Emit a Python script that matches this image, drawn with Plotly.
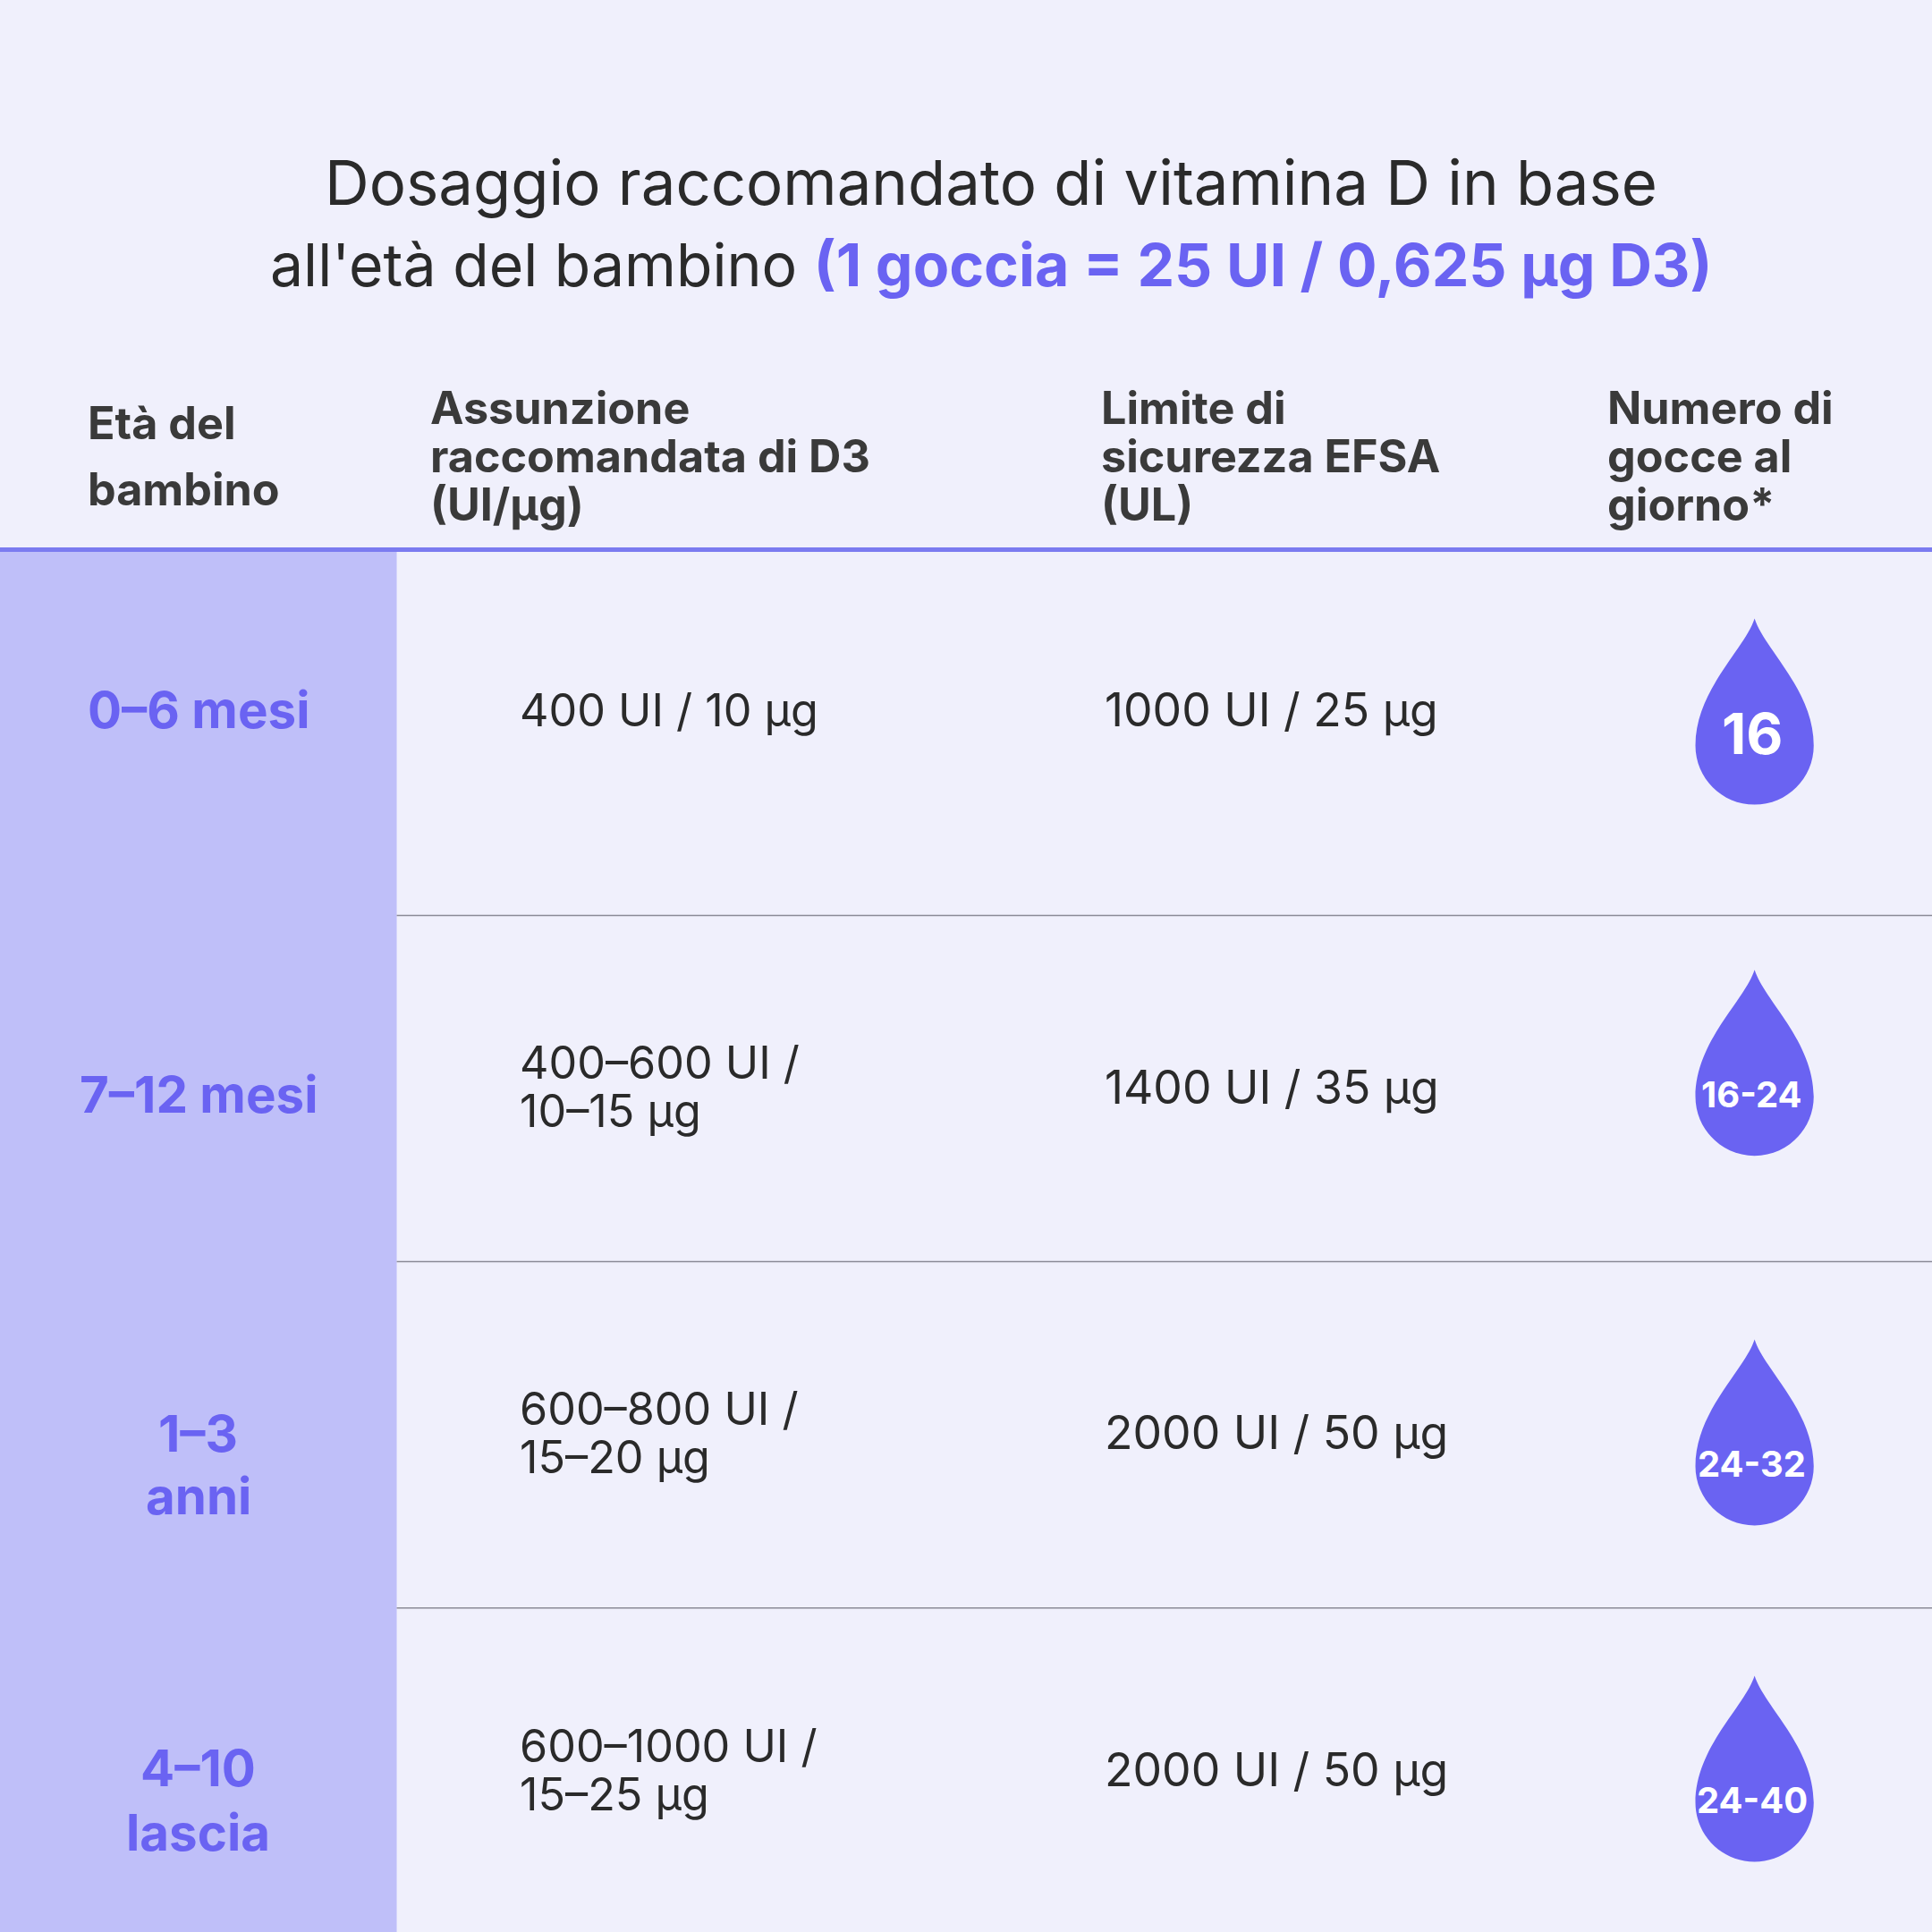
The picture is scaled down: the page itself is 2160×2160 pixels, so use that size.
import plotly.graph_objects as go

S = 2160 / 1568  # reference was read at 1568px

ages = [["0–6 mesi"], ["7–12 mesi"], ["1–3", "anni"], ["4–10", "lascia"]]
intake = [["400 UI / 10 µg"], ["400–600 UI /", "10–15 µg"], ["600–800 UI /", "15–20 µg"], ["600–1000 UI /", "15–25 µg"]]
limits = ["1000 UI / 25 µg", "1400 UI / 35 µg", "2000 UI / 50 µg", "2000 UI / 50 µg"]
drops = ["16", "16-24", "24-32", "24-40"]
headers = [["Età del", "bambino"], ["Assunzione", "raccomandata di D3", "(UI/µg)"],
           ["Limite di", "sicurezza EFSA", "(UL)"], ["Numero di", "gocce al", "giorno*"]]

age_y = [[576], [888], [1163, 1214], [1435, 1487]]
intake_y = [[576], [862, 901], [1143, 1182], [1417, 1456]]
limit_y = [576, 882, 1162, 1436]
drop_cy = [605, 890, 1190, 1463]
header_x = [70, 348, 892, 1303]
header_y = [[343, 397], [331, 370, 409], [331, 370, 409], [331, 370, 409]]

BG = "#F0F0FC"
PURPLE = "#6A63F2"
LEFT = "#BFBFF9"
DARK = "#2a2a2a"
FONT = "Inter"

fig = go.Figure()
shapes = []
ann = []

shapes.append(dict(type="rect", x0=0, x1=322, y0=447, y1=1568, fillcolor=LEFT, line_width=0, layer="below"))
shapes.append(dict(type="line", x0=0, x1=1568, y0=446, y1=446, line=dict(color="#7B7BF0", width=5)))
for y in [743, 1024, 1305]:
    shapes.append(dict(type="line", x0=322, x1=1568, y0=y, y1=y, line=dict(color="#8a8a96", width=1.5)))

ann.append(dict(x=804, y=148, text="Dosaggio raccomandato di vitamina D in base", showarrow=False,
                font=dict(size=50 * S, color=DARK, family=FONT)))
ann.append(dict(x=804, y=215, text="all'età del bambino <b><span style='color:%s'>(1 goccia = 25 UI / 0,625 µg D3)</span></b>" % PURPLE,
                showarrow=False, font=dict(size=48 * S, color=DARK, family=FONT)))

for hx, hys, hl in zip(header_x, header_y, headers):
    for hy, h in zip(hys, hl):
        ann.append(dict(x=hx, y=hy, text="<b>%s</b>" % h, showarrow=False, xanchor="left",
                        font=dict(size=36.5 * S, color="#3a3a3a", family=FONT)))

r = 48
k = 0.5523
for i in range(4):
    for y, t in zip(age_y[i], ages[i]):
        ann.append(dict(x=161, y=y, text="<b>%s</b>" % t, showarrow=False,
                        font=dict(size=41 * S, color=PURPLE, family=FONT)))
    for y, t in zip(intake_y[i], intake[i]):
        ann.append(dict(x=420, y=y, text=t, showarrow=False, xanchor="left",
                        font=dict(size=36.5 * S, color=DARK, family=FONT)))
    ann.append(dict(x=895, y=limit_y[i], text=limits[i], showarrow=False,
                    xanchor="left", font=dict(size=37.5 * S, color=DARK, family=FONT)))
    cx, cy = 1424, drop_cy[i]
    t = cy - 103
    path = (f"M {cx},{t} C {cx+8},{t+25} {cx+r},{cy-45} {cx+r},{cy} "
            f"C {cx+r},{cy+k*r} {cx+k*r},{cy+r} {cx},{cy+r} "
            f"C {cx-k*r},{cy+r} {cx-r},{cy+k*r} {cx-r},{cy} "
            f"C {cx-r},{cy-45} {cx-8},{t+25} {cx},{t} Z")
    shapes.append(dict(type="path", path=path, fillcolor=PURPLE, line_width=0))
    size = 46 if len(drops[i]) <= 2 else 29
    ann.append(dict(x=cx - 2, y=cy - 2 if i else cy - 10, text="<b>%s</b>" % drops[i], showarrow=False,
                    font=dict(size=size * S, color="white", family=FONT)))

fig.update_layout(width=2160, height=2160, margin=dict(l=0, r=0, t=0, b=0),
                  paper_bgcolor=BG, plot_bgcolor=BG, shapes=shapes, annotations=ann, showlegend=False,
                  xaxis=dict(range=[0, 1568], visible=False),
                  yaxis=dict(range=[1568, 0], visible=False))
fig.write_html("out.html", config={"displayModeBar": False},
               post_script="document.body.style.margin='0';document.body.style.background='%s';" % BG)
